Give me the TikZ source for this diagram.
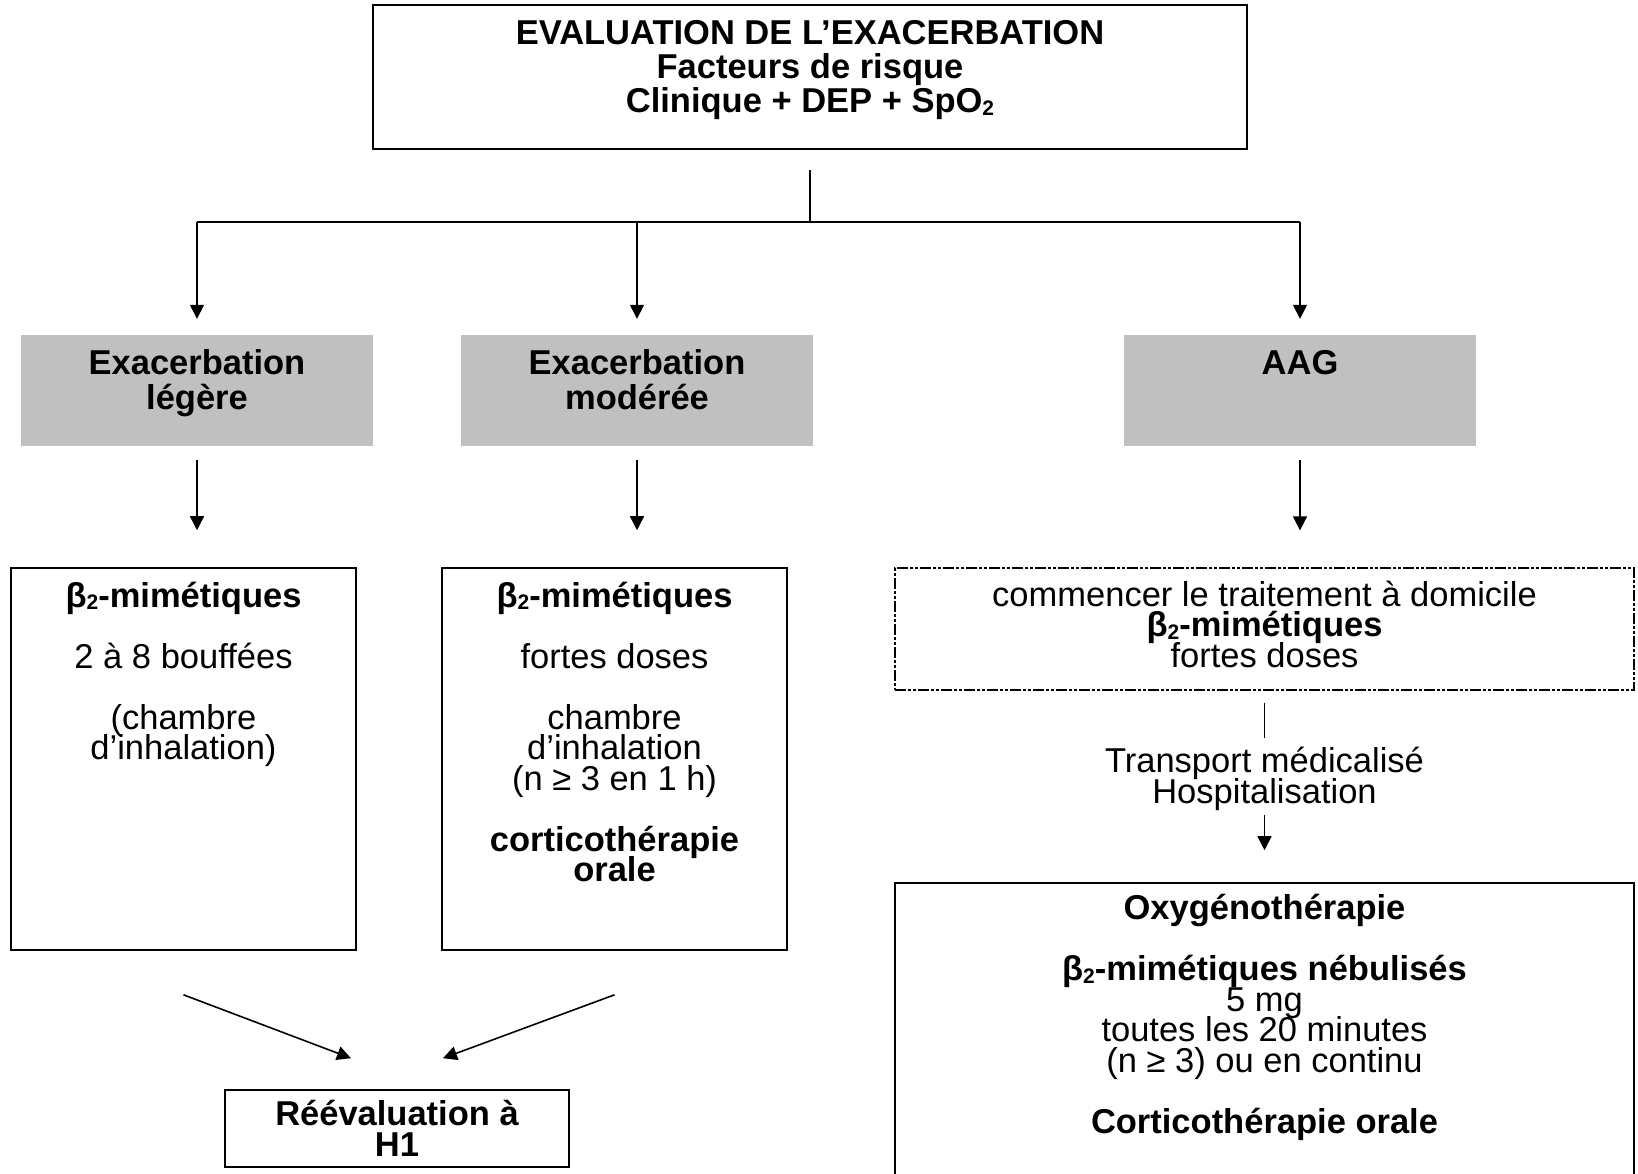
\documentclass[tikz,border=0pt]{standalone}
\usepackage{fontspec}
\setmainfont{Liberation Sans}
\usetikzlibrary{positioning,calc,arrows.meta}
\definecolor{boxgray}{RGB}{192,192,192}
\newcommand{\fixlines}{\lineskiplimit=-100pt\lineskip=0pt}
\newcommand{\subdeux}{\raisebox{-2.5pt}{\fontsize{21pt}{21pt}\selectfont 2}}
\tikzset{
  figfont/.style={font=\fontsize{34.5pt}{30.5pt}\selectfont\fixlines},
  figheadfont/.style={font=\fontsize{34.5pt}{34.3pt}\selectfont\bfseries\fixlines},
  figbox/.style={draw, line width=1.6pt, inner sep=0pt},
  figboxgray/.style={fill=boxgray, inner sep=0pt},
  figboxdash/.style={draw, line width=1.3pt, inner sep=0pt,
    dash pattern=on 11pt off 2pt on 3pt off 2pt on 3pt off 2pt},
  figtext/.style={align=center, anchor=base, inner sep=0pt},
  figline/.style={line width=1.6pt},
  figarrow/.style={figline, -{Triangle[length=14pt,width=14pt]}},
}
\newcommand{\betadeux}{β\subdeux}

\begin{document}
\begin{tikzpicture}[x=1pt, y=-1pt, figfont]
			\useasboundingbox (0,0) rectangle (1638,1173);
			\clip (0,0) rectangle (1638,1173);

			% Evaluation box at top (text placed by the baseline of its last line)
			\node[figbox, minimum width=874pt, minimum height=144pt] (eval) at (810,77) {};
			\node[figtext, figheadfont] (evaltxt) at ([yshift=-108.6pt]eval.north)
			{EVALUATION DE L’EXACERBATION\\ Facteurs de risque\\ Clinique + DEP + SpO\subdeux};

			% Three severity levels (gray boxes)
			\node[figboxgray, minimum width=352pt, minimum height=111pt] (legere) at (197,390.5) {};
			\node[figboxgray, minimum width=352pt, minimum height=111pt] (moderee) at (637,390.5) {};
			\node[figboxgray, minimum width=352pt, minimum height=111pt] (aag) at (1300,390.5) {};
			\node[figtext, figheadfont] (legeretxt) at ([yshift=-74.3pt]legere.north)
			{Exacerbation\\ légère};
			\node[figtext, figheadfont] (modereetxt) at ([yshift=-74.3pt]moderee.north)
			{Exacerbation\\ modérée};
			\node[figtext, figheadfont] (aagtxt) at ([yshift=-40pt]aag.north)
			{AAG};

			% Treatment boxes
			\node[figbox, minimum width=345pt, minimum height=382pt] (trtl) at (183.5,759) {};
			\node[figtext] (trtltxt) at ([yshift=-192.5pt]trtl.north)
			{\textbf{\betadeux-mimétiques}\\[\baselineskip] 2 à 8 bouffées\\[\baselineskip] (chambre\\ d’inhalation)};
			\node[figbox, minimum width=345pt, minimum height=382pt] (trtm) at (614.5,759) {};
			\node[figtext] (trtmtxt) at ([yshift=-314.5pt]trtm.north)
			{\textbf{\betadeux-mimétiques}\\[\baselineskip] fortes doses\\[\baselineskip] chambre\\ d’inhalation\\ (n ≥ 3 en 1 h)\\[\baselineskip] \textbf{corticothérapie}\\ \textbf{orale}};

			\node[figboxdash, minimum width=739pt, minimum height=122pt] (domicile) at (1264.5,629) {};
			\node[figtext] (domiciletxt) at ([yshift=-100pt]domicile.north)
			{commencer le traitement à domicile\\ \textbf{\betadeux-mimétiques}\\ fortes doses};

			\node[figtext] (transport) at (1264.5,803)
			{Transport médicalisé\\ Hospitalisation};

			\node[figbox, minimum width=739pt, minimum height=320pt] (oxy) at (1264.5,1043) {};
			\node[figtext] (oxytxt) at ([yshift=-251pt]oxy.north)
			{\textbf{Oxygénothérapie}\\[\baselineskip] \textbf{\betadeux-mimétiques nébulisés}\\ 5 mg\\ toutes les 20 minutes\\ (n ≥ 3) ou en continu\\[\baselineskip] \textbf{Corticothérapie orale}};

			\node[figbox, minimum width=344pt, minimum height=77pt] (reeval) at (397,1128.5) {};
			\node[figtext, font=\fontsize{34.5pt}{31pt}\selectfont\bfseries\fixlines] (reevaltxt) at ([yshift=-67pt]reeval.north)
			{Réévaluation à\\ H1};

			% Split from evaluation to the three levels
			\coordinate (bus) at (810,222);
			\draw[figline, shorten <=20pt] (eval.south) -- (bus);
			\draw[figline] (legere.north |- bus) -- (aag.north |- bus);
			\draw[figarrow, shorten >=16pt] (legere.north |- bus) -- (legere.north);
			\draw[figarrow, shorten >=16pt] (moderee.north |- bus) -- (moderee.north);
			\draw[figarrow, shorten >=16pt] (aag.north |- bus) -- (aag.north);

			% Levels to treatments
			\draw[figarrow, shorten <=14pt, shorten >=37pt] (legere.south) -- (legere.south |- trtl.north);
			\draw[figarrow, shorten <=14pt, shorten >=37pt] (moderee.south) -- (moderee.south |- trtm.north);
			\draw[figarrow, shorten <=14pt, shorten >=37pt] (aag.south) -- (aag.south |- domicile.north);

			% AAG path
			\draw[figline, shorten <=12pt, shorten >=9pt] (domicile.south) -- (domicile.south |- transport.north);
			\draw[figarrow, shorten <=5pt, shorten >=32pt] (transport.south) -- (transport.south |- oxy.north);

			% Toward reevaluation
			\draw[figarrow] ([yshift=-44pt]trtl.south) -- ([xshift=-46pt, yshift=31pt]reeval.north);
			\draw[figarrow] ([yshift=-44pt]trtm.south) -- ([xshift=46pt, yshift=31pt]reeval.north);
		\end{tikzpicture}
\end{document}
